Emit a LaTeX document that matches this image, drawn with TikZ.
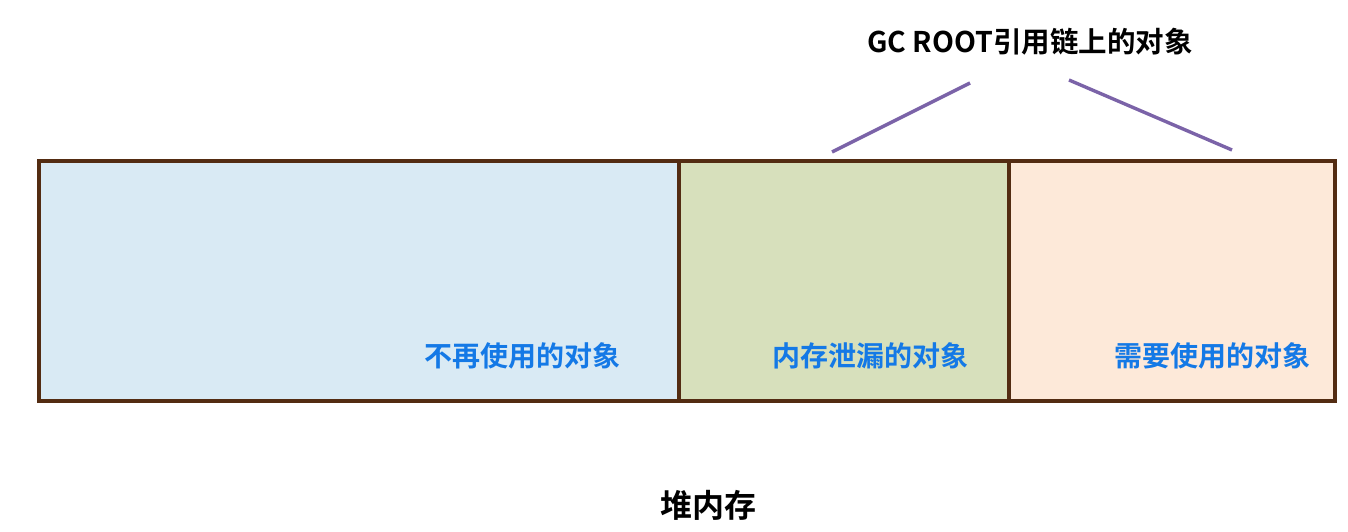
\documentclass[tikz,border=0pt]{standalone}
\usepackage{fontspec}
\usepackage{xcolor}
\usetikzlibrary{positioning, calc}
\newfontfamily\cjkbold[BoldFont={Noto Sans CJK SC Bold}]{Noto Sans CJK SC Bold}
\definecolor{heapbrown}{HTML}{532C12}
\definecolor{deadblue}{HTML}{D9EAF4}
\definecolor{leakgreen}{HTML}{D7E0BC}
\definecolor{liveorange}{HTML}{FDE9D9}
\definecolor{labelblue}{HTML}{1479E6}
\definecolor{rootpurple}{HTML}{7B63A8}

\begin{document}
\begin{tikzpicture}[x=1pt, y=-1pt]
  \tikzstyle{region}=[draw=heapbrown, line width=3.6pt, inner sep=0pt,
    anchor=north west, minimum height=240pt]
  \tikzstyle{tag}=[font=\cjkbold\fontsize{28}{30}\selectfont,
    text=labelblue, inner sep=0pt, anchor=east]
  \tikzstyle{link}=[rootpurple, line width=3.4pt]

  \useasboundingbox (0,0) rectangle (1348,532);

  % heap regions
  \node[region, fill=deadblue,   minimum width=640pt] (dead) at (37,159) {};
  \node[region, fill=leakgreen,  minimum width=330pt] (leak) at (677,159) {};
  \node[region, fill=liveorange, minimum width=326pt] (live) at (1007,159) {};

  \node[tag] (deadtxt) at (621,356) {不再使用的对象};
  \node[tag] (leaktxt) at (969,356) {内存泄漏的对象};
  \node[tag] (livetxt) at (1311,356) {需要使用的对象};

  % GC root label and its two strokes
  \node[font=\cjkbold\fontsize{28.5}{30}\selectfont, inner sep=0pt]
    (root) at (1030,42) {GC ROOT引用链上的对象};
  \coordinate (lefttop)  at (970,83);
  \coordinate (leftbot)  at (832,152);
  \coordinate (righttop) at (1069,80);
  \coordinate (rightbot) at (1232,150);
  \draw[link] (lefttop) -- (leftbot);
  \draw[link] (righttop) -- (rightbot);

  \node[font=\cjkbold\fontsize{32}{34}\selectfont, inner sep=0pt]
    (heap) at (708,505) {堆内存};
\end{tikzpicture}
\end{document}
